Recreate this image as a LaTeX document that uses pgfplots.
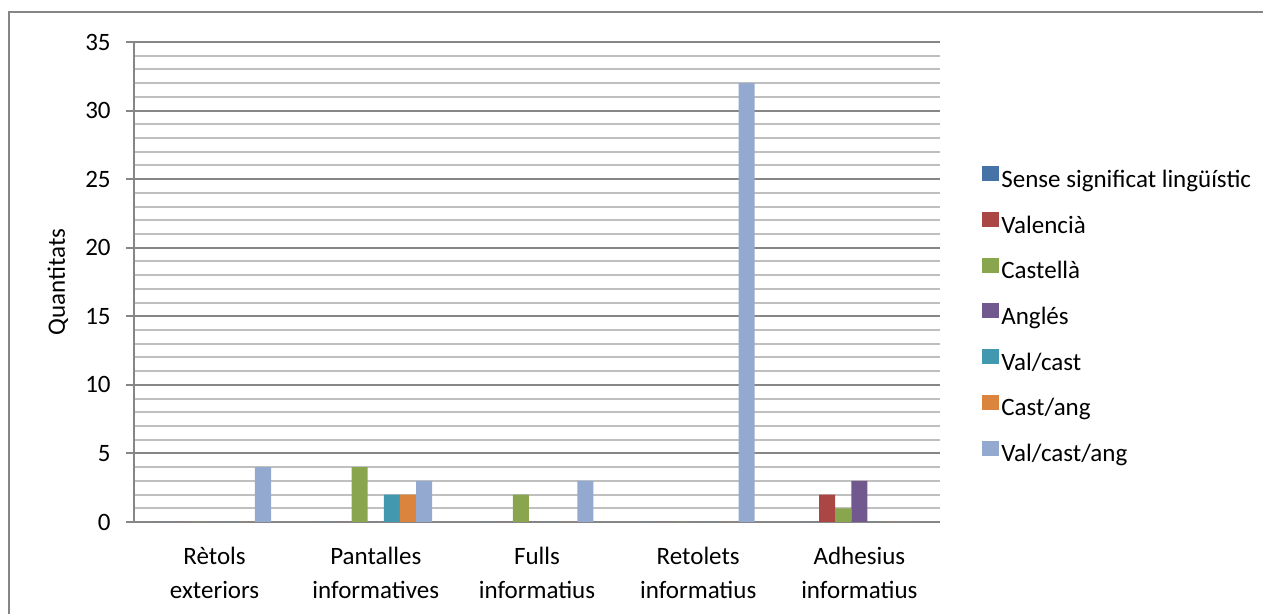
\documentclass[border=0pt]{standalone}
\usepackage{fontspec}
\setmainfont{Carlito}
\usepackage{pgfplots}
\pgfplotsset{compat=1.18}
\definecolor{c1}{HTML}{4572A7}
\definecolor{c2}{HTML}{AA4643}
\definecolor{c3}{HTML}{89A54E}
\definecolor{c4}{HTML}{71588F}
\definecolor{c5}{HTML}{4198AF}
\definecolor{c6}{HTML}{DB843D}
\definecolor{c7}{HTML}{93A9CF}
\definecolor{axgray}{HTML}{868686}
\definecolor{mingray}{HTML}{BFBFBF}
\begin{document}
\begin{tikzpicture}
\useasboundingbox (0,0) rectangle (631.5pt,307pt);
\draw[axgray, line width=0.75pt] (4.5pt,-5pt) rectangle (640pt,301pt);
\begin{axis}[
  at={(67pt,46pt)}, anchor=south west,
  width=403pt, height=240pt, scale only axis,
  xmin=-0.5, xmax=4.5, ymin=0, ymax=35,
  ybar, bar width=0.1,
  ytick={0,5,...,35}, minor y tick num=4,
  xtick={0,1,2,3,4},
  xticklabels={{Rètols\\exteriors},{Pantalles\\informatives},{Fulls\\informatius},{Retolets\\informatius},{Adhesius\\informatius}},
  axis x line*=bottom, axis y line*=left,
  axis line style={axgray, line width=1pt},
  tick align=outside, major tick length=4pt, minor tick length=0pt,
  ytick style={axgray, line width=1pt},
  xtick style={draw=none},
  ymajorgrids, yminorgrids,
  major grid style={axgray, line width=1pt},
  minor grid style={mingray, line width=1pt},
  font=\fontsize{12.5}{15}\selectfont,
  /pgf/number format/assume math mode=true,
  yticklabel style={anchor=east, inner sep=0pt, xshift=-7.5pt},
  xticklabel style={align=center, font=\fontsize{12.5}{17}\selectfont, inner sep=0pt, anchor=north, yshift=-8.5pt},
  ylabel={Quantitats},
  ylabel style={at={(axis description cs:-0.0943,0.5)}, anchor=center, inner sep=0pt},
  legend style={at={(axis description cs:1.0521,0.7417)}, anchor=north west, draw=none, fill=none, inner sep=0pt,
    row sep=9.85pt, column sep=1pt, font=\fontsize{12.5}{15}\selectfont,
    nodes={inner sep=0pt, text height=8.5pt, text depth=2.5pt}},
  legend cell align=left,
  lg/.style={fill=#1, draw=none, legend image code/.code={\fill[#1] (0pt,0pt) rectangle (8.5pt,7.5pt);}},
]
\addplot[lg=c1, bar shift=-0.3] coordinates {(0,0) (1,0) (2,0) (3,0) (4,0)};
\addplot[lg=c2, bar shift=-0.2] coordinates {(0,0) (1,0) (2,0) (3,0) (4,2)};
\addplot[lg=c3, bar shift=-0.1] coordinates {(0,0) (1,4) (2,2) (3,0) (4,1)};
\addplot[lg=c4, bar shift=0] coordinates {(0,0) (1,0) (2,0) (3,0) (4,3)};
\addplot[lg=c5, bar shift=0.1] coordinates {(0,0) (1,2) (2,0) (3,0) (4,0)};
\addplot[lg=c6, bar shift=0.2] coordinates {(0,0) (1,2) (2,0) (3,0) (4,0)};
\addplot[lg=c7, bar shift=0.3] coordinates {(0,4) (1,3) (2,3) (3,32) (4,0)};
\legend{Sense significat lingüístic, Valencià, Castellà, Anglés, Val/cast, Cast/ang, Val/cast/ang}
\end{axis}
\end{tikzpicture}
\end{document}
